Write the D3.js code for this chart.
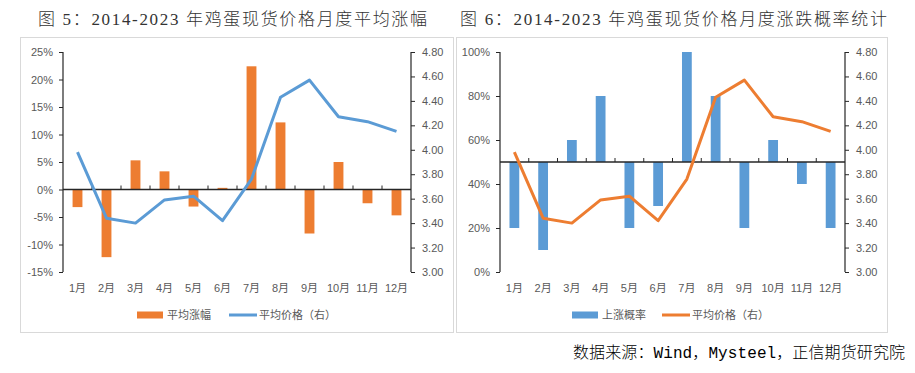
<!DOCTYPE html>
<html>
<head>
<meta charset="utf-8">
<script src="https://cdn.jsdelivr.net/npm/d3@7"></script>
<style>
    body { margin: 0; background: #fff; }
    svg { display: block; }
    text { font-family: "Liberation Sans", "Noto Sans CJK SC", sans-serif; }
</style>
</head>
<body>
<svg id="chart" width="915" height="373"></svg>
<script>
// chart data
var months = ['1月', '2月', '3月', '4月', '5月', '6月', '7月', '8月', '9月', '10月', '11月', '12月'];
var avgChange = [-3.2, -12.3, 5.3, 3.3, -3.1, 0.3, 22.4, 12.2, -8.0, 5.0, -2.5, -4.7];   // %
var avgPrice = [3.98, 3.44, 3.40, 3.59, 3.62, 3.42, 3.76, 4.43, 4.57, 4.27, 4.23, 4.15];  // 元/斤
var riseProb = [20, 10, 60, 80, 20, 30, 100, 80, 20, 60, 40, 20];                         // %
var changeTicks = [-15, -10, -5, 0, 5, 10, 15, 20, 25];
var probTicks = [0, 20, 40, 60, 80, 100];
var priceTicks = [3.0, 3.2, 3.4, 3.6, 3.8, 4.0, 4.2, 4.4, 4.6, 4.8];

var BLUE = '#5B9BD5', ORANGE = '#ED7D31', LABEL = '#595959', AXIS = '#262626';

var svg = d3.select('#chart');

/**
 * Draws one bar + line panel
 * @param {Object} o - frame, plot area and series settings of the panel
 */
function drawPanel(o) {
    var g = svg.append('g');

    g.append('rect')
        .attr('x', o.frame[0]).attr('y', o.frame[1])
        .attr('width', o.frame[2]).attr('height', o.frame[3])
        .attr('fill', '#fff').attr('stroke', '#d9d9d9').attr('stroke-width', 1);

    var x = d3.scaleBand().domain(months).range([o.left, o.right]);
    var yL = d3.scaleLinear().domain(o.leftDomain).range([o.bottom, o.top]);
    var yR = d3.scaleLinear().domain([3.0, 4.8]).range([o.bottom, o.top]);
    var base = yL(o.baseValue);
    var bw = x.bandwidth() * 0.34;

    // bars hang from the horizontal axis
    g.selectAll('rect.bar')
        .data(o.barData)
        .enter().append('rect')
        .attr('class', 'bar')
        .attr('x', function (d, i) { return x(months[i]) + (x.bandwidth() - bw) / 2; })
        .attr('y', function (d) { return yL(Math.max(d, o.baseValue)); })
        .attr('width', bw)
        .attr('height', function (d) { return Math.abs(yL(d) - base); })
        .attr('fill', o.barColor);

    // left axis
    var left = d3.axisLeft(yL).tickValues(o.leftTicks).tickSize(4).tickPadding(6)
        .tickFormat(function (d) { return d + '%'; });
    var gl = g.append('g').attr('transform', 'translate(' + o.left + ',0)').call(left);

    // right axis
    var right = d3.axisRight(yR).tickValues(priceTicks).tickSize(4).tickPadding(7)
        .tickFormat(d3.format('.2f'));
    var gr = g.append('g').attr('transform', 'translate(' + o.right + ',0)').call(right);

    [gl, gr].forEach(function (a) {
        a.select('.domain').attr('stroke', AXIS).attr('stroke-width', 1.2)
            .attr('d', 'M0,' + o.top + 'V' + o.bottom);
        a.selectAll('.tick line').attr('stroke', AXIS);
        a.selectAll('.tick text').attr('fill', LABEL).style('font-size', '11px');
    });

    // category axis sits on the bar baseline, ticks at category borders
    g.append('line')
        .attr('x1', o.left).attr('x2', o.right).attr('y1', base).attr('y2', base)
        .attr('stroke', AXIS).attr('stroke-width', 1.3);
    g.selectAll('line.xtick')
        .data(months.slice(1))
        .enter().append('line')
        .attr('class', 'xtick')
        .attr('x1', function (d) { return x(d); })
        .attr('x2', function (d) { return x(d); })
        .attr('y1', base).attr('y2', base - 4)
        .attr('stroke', AXIS);
    g.selectAll('text.cat')
        .data(months)
        .enter().append('text')
        .attr('class', 'cat')
        .attr('x', function (d) { return x(d) + x.bandwidth() / 2; })
        .attr('y', o.bottom + 20)
        .attr('text-anchor', 'middle')
        .attr('fill', LABEL)
        .style('font-size', '11px')
        .text(function (d) { return d; });

    // price line on the right axis
    var line = d3.line()
        .x(function (d, i) { return x(months[i]) + x.bandwidth() / 2; })
        .y(function (d) { return yR(d); });
    g.append('path')
        .datum(avgPrice)
        .attr('d', line)
        .attr('fill', 'none')
        .attr('stroke', o.lineColor)
        .attr('stroke-width', 3)
        .attr('stroke-linejoin', 'round');

    // legend
    var lg = g.append('g').attr('transform', 'translate(' + o.legendX + ',315)');
    lg.append('rect').attr('x', 0).attr('y', -3.5).attr('width', 26).attr('height', 7).attr('fill', o.barColor);
    lg.append('text').attr('x', 30).attr('y', 4).attr('fill', LABEL).style('font-size', '11px').text(o.barName);
    lg.append('line').attr('x1', o.legendGap).attr('x2', o.legendGap + 28).attr('y1', 0).attr('y2', 0)
        .attr('stroke', o.lineColor).attr('stroke-width', 3);
    lg.append('text').attr('x', o.legendGap + 30).attr('y', 4).attr('fill', LABEL).style('font-size', '11px').text('平均价格（右）');

    // title
    svg.append('text')
        .attr('x', o.titleX).attr('y', 25)
        .attr('textLength', o.titleLen).attr('lengthAdjust', 'spacing')
        .attr('fill', '#333')
        .style('font-family', '"Liberation Serif", "Noto Sans CJK SC", serif')
        .style('font-weight', '300')
        .style('font-size', '17px')
        .text(o.title);
}

drawPanel({
    frame: [20.5, 37.5, 433, 295],
    left: 63, right: 411, top: 52, bottom: 272,
    leftDomain: [-15, 25], leftTicks: changeTicks, baseValue: 0,
    barData: avgChange, barColor: ORANGE, lineColor: BLUE, barName: '平均涨幅',
    legendX: 137, legendGap: 92,
    title: '图 5：2014-2023 年鸡蛋现货价格月度平均涨幅', titleX: 38, titleLen: 389
});

drawPanel({
    frame: [456.5, 37.5, 431, 295],
    left: 500, right: 845, top: 52, bottom: 272,
    leftDomain: [0, 100], leftTicks: probTicks, baseValue: 50,
    barData: riseProb, barColor: BLUE, lineColor: ORANGE, barName: '上涨概率',
    legendX: 572, legendGap: 90,
    title: '图 6：2014-2023 年鸡蛋现货价格月度涨跌概率统计', titleX: 460, titleLen: 427
});

svg.append('text')
    .attr('x', 573).attr('y', 358)
    .attr('textLength', 332).attr('lengthAdjust', 'spacing')
    .attr('fill', '#000')
    .style('font-family', '"Liberation Mono", "Noto Sans CJK SC", monospace')
    .style('font-weight', '300')
    .style('font-size', '16px')
    .text('数据来源：Wind，Mysteel，正信期货研究院');
</script>
</body>
</html>
